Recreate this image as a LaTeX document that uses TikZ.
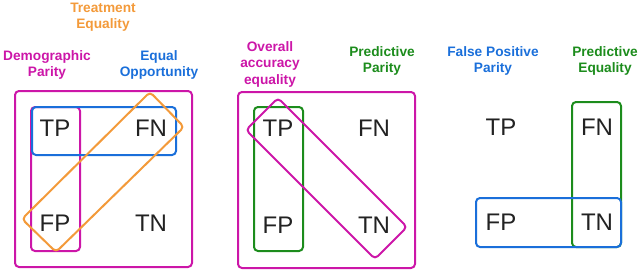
\documentclass[tikz,border=0pt]{standalone}
\usepackage{fontspec}
\setmainfont{Liberation Sans}
\definecolor{cmag}{HTML}{CC16A8}
\definecolor{corange}{HTML}{F39A3A}
\definecolor{cblue}{HTML}{1A6FDA}
\definecolor{cgreen}{HTML}{1C8C1C}
\definecolor{ctext}{HTML}{222222}
\begin{document}
\begin{tikzpicture}[x=1pt,y=-1pt,
  cell/.style={font=\fontsize{24}{27}\selectfont, text=ctext, inner sep=0pt},
  lbl/.style={font=\fontsize{13.7}{16.5}\selectfont\bfseries, align=center, inner sep=0pt},
  box/.style={line width=2pt, rounded corners=4pt},
]
\useasboundingbox (0,0) rectangle (640,273);
% ---- panel 1
\node[lbl, text=corange] (te) at (103,17) {Treatment\\Equality};
\node[lbl, text=cmag] (dp) at (47,65) {Demographic\\Parity};
\node[lbl, text=cblue] (eo) at (159,65) {Equal\\Opportunity};
\draw[box, cmag] (15,91) rectangle (192,267);
\draw[box, cmag] (31,107) rectangle (80,251);
\draw[box, cblue] (32,107) rectangle (176,155);
\draw[box, corange] (150,92) -- (184,127) -- (56,252) -- (22,219) -- cycle;
\node[cell] (tp1) at (55,128) {TP};
\node[cell] (fn1) at (151,128) {FN};
\node[cell] (fp1) at (55,223) {FP};
\node[cell] (tn1) at (151,223) {TN};
% ---- panel 2
\node[lbl, text=cmag] (oae) at (270,64) {Overall\\accuracy\\equality};
\node[lbl, text=cgreen] (pp) at (382,61) {Predictive\\Parity};
\draw[box, cmag] (238,92) rectangle (415,268);
\draw[box, cgreen] (254,107) rectangle (303,251);
\draw[box, cmag] (278,98) -- (407,227) -- (375,259) -- (246,130) -- cycle;
\node[cell] (tp2) at (278,128) {TP};
\node[cell] (fn2) at (374,128) {FN};
\node[cell] (fp2) at (278,225) {FP};
\node[cell] (tn2) at (374,225) {TN};
% ---- panel 3
\node[lbl, text=cblue] (fpp) at (493,61) {False Positive\\Parity};
\node[lbl, text=cgreen] (pe) at (605,61) {Predictive\\Equality};
\draw[box, cgreen] (572,102) rectangle (621,247);
\draw[box, cblue] (476,198) rectangle (621,247);
\node[cell] (tp3) at (501,127) {TP};
\node[cell] (fn3) at (597,127) {FN};
\node[cell] (fp3) at (501,222) {FP};
\node[cell] (tn3) at (597,222) {TN};
\end{tikzpicture}
\end{document}
